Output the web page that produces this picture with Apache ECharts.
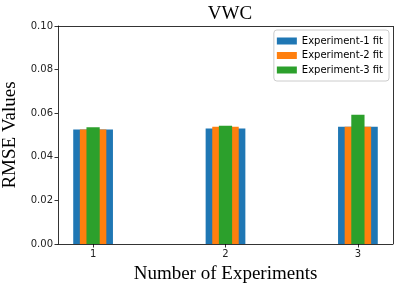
<!DOCTYPE html>
<html><head><meta charset="utf-8">
<script src="https://cdn.jsdelivr.net/npm/echarts@6/dist/echarts.min.js"></script>
<style>html,body{margin:0;padding:0;background:#fff}#c{width:400px;height:290px}</style>
</head><body><div id="c"></div>
<script>
var categories = [1, 2, 3];
var exp1 = [0.0525, 0.0530, 0.0538];
var exp2 = [0.0525, 0.0538, 0.0538];
var exp3 = [0.0535, 0.0543, 0.0593];
var seriesNames = ['Experiment-1 fit', 'Experiment-2 fit', 'Experiment-3 fit'];
var yTicks = [0, 0.02, 0.04, 0.06, 0.08, 0.10];

var colors = ['#1f77b4', '#ff7f0e', '#2ca02c'];
var widths = [0.3, 0.2, 0.1];
var serif = 'Liberation Serif, DejaVu Serif, serif';
var sans = 'DejaVu Sans, sans-serif';

function mk(idx, vals) {
  return {
    type: 'custom',
    name: seriesNames[idx],
    itemStyle: { color: colors[idx] },
    data: categories.map(function (c, i) { return [c, vals[i]]; }),
    renderItem: function (params, api) {
      var x = api.value(0), y = api.value(1), w = widths[idx];
      var p1 = api.coord([x - w / 2, y]);
      var p2 = api.coord([x + w / 2, 0]);
      return { type: 'rect', shape: { x: p1[0], y: p1[1], width: p2[0] - p1[0], height: p2[1] - p1[1] },
        style: { fill: colors[idx] } };
    },
    encode: { x: 0, y: 1 }
  };
}

var chart = echarts.init(document.getElementById('c'), null, { renderer: 'canvas' });
chart.setOption({
  animation: false,
  backgroundColor: '#fff',
  title: { text: 'VWC', left: 225, top: 0, textAlign: 'center',
    textStyle: { fontFamily: serif, fontSize: 19, fontWeight: 'normal', color: '#000' } },
  grid: { left: 58, right: 7, top: 26, bottom: 46, containLabel: false, outerBoundsMode: 'none' },
  legend: {
    orient: 'vertical', right: 11, top: 30,
    itemWidth: 20, itemHeight: 7, itemGap: 4.5,
    icon: 'rect',
    padding: [6, 6, 6, 3],
    borderColor: '#ccc', borderWidth: 1, borderRadius: 3,
    backgroundColor: 'rgba(255,255,255,0.8)',
    textStyle: { fontFamily: sans, fontSize: 10, color: '#000' },
    data: seriesNames
  },
  xAxis: {
    type: 'value', min: 0.735, max: 3.265,
    splitLine: { show: false },
    axisLine: { show: true, lineStyle: { color: '#000', width: 0.8 } },
    axisTick: { show: true, length: 3.5, lineStyle: { color: '#000', width: 0.8 }, customValues: categories },
    axisLabel: { fontFamily: sans, fontSize: 10, color: '#222', margin: 5, customValues: categories,
      formatter: function (v) { return String(v); } },
    name: 'Number of Experiments', nameLocation: 'middle', nameGap: 21,
    nameTextStyle: { fontFamily: serif, fontSize: 19, color: '#000' }
  },
  yAxis: {
    type: 'value', min: 0, max: 0.1, interval: 0.02,
    splitLine: { show: false },
    axisLine: { show: true, lineStyle: { color: '#000', width: 0.8 } },
    axisTick: { show: true, length: 3.5, lineStyle: { color: '#000', width: 0.8 } },
    axisLabel: { fontFamily: sans, fontSize: 10, color: '#222', margin: 5,
      formatter: function (v) { return v.toFixed(2); } },
    name: 'RMSE Values', nameLocation: 'middle', nameGap: 36,
    nameTextStyle: { fontFamily: serif, fontSize: 19, color: '#000' }
  },
  series: [mk(0, exp1), mk(1, exp2), mk(2, exp3),
    { type: 'line', data: [], markLine: { silent: true, symbol: 'none', label: { show: false },
      lineStyle: { color: '#000', width: 0.8, type: 'solid' },
      data: [[{ coord: [3.265, 0] }, { coord: [3.265, 0.1] }], [{ coord: [0.735, 0.1] }, { coord: [3.265, 0.1] }]] } }
  ]
});
</script></body></html>
